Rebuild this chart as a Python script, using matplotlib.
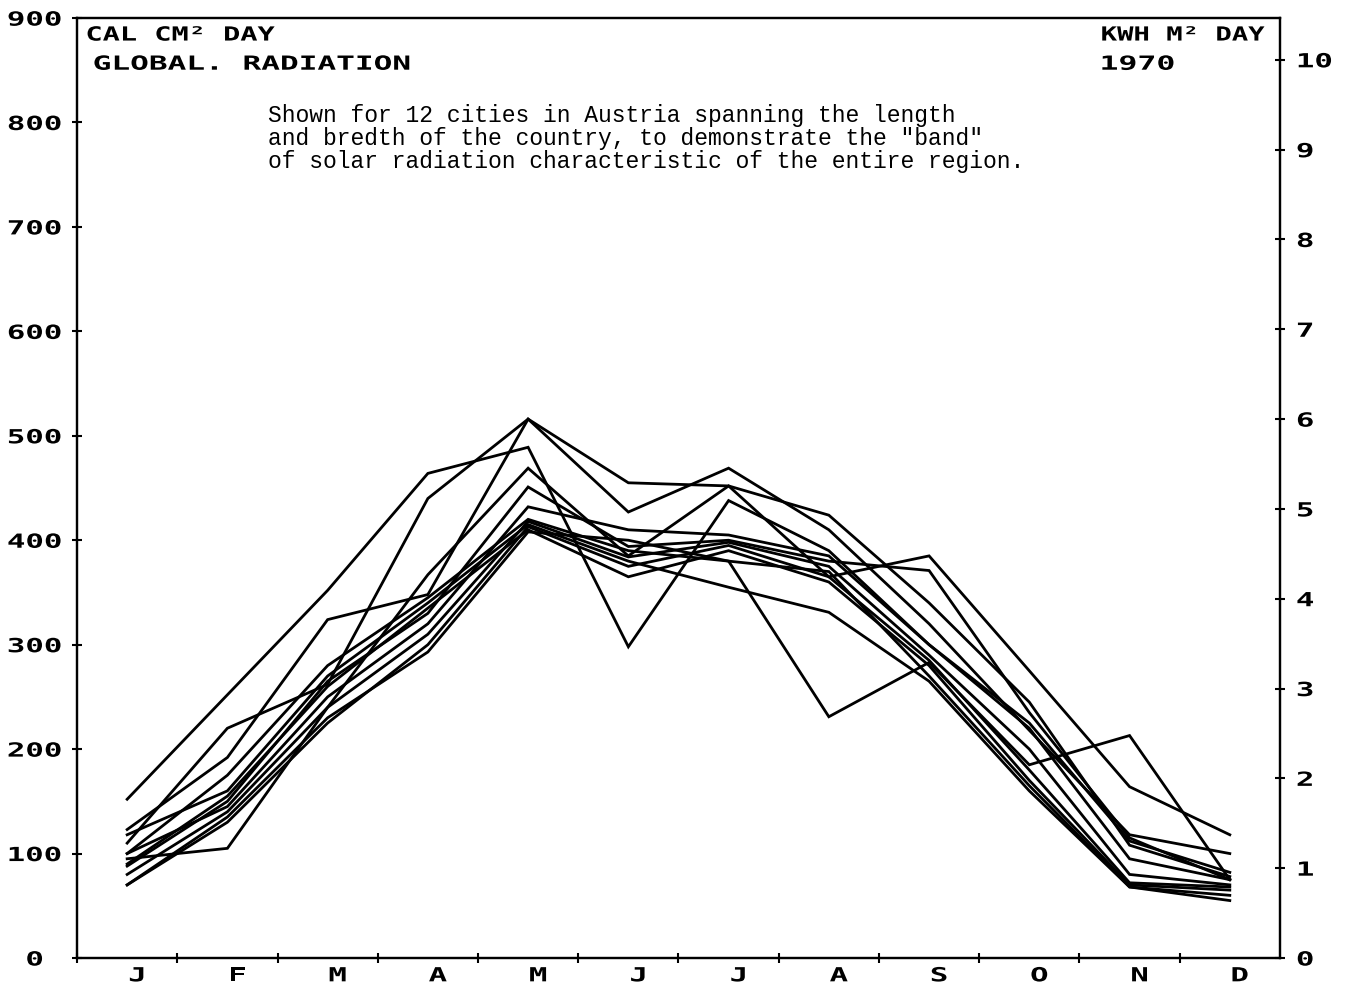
import numpy as np
import matplotlib.pyplot as plt
from matplotlib.patheffects import AbstractPathEffect
from matplotlib.transforms import Affine2D

# monthly global radiation, cal/cm2/day, 12 Austrian stations, 1970
months = ['J', 'F', 'M', 'A', 'M', 'J', 'J', 'A', 'S', 'O', 'N', 'D']
s1 = [152, 252, 352, 464, 489, 298, 438, 390, 300, 225, 112, 82]
s2 = [123, 192, 324, 348, 516, 455, 452, 424, 340, 245, 108, 78]
s3 = [110, 220, 262, 440, 516, 427, 469, 410, 320, 218, 118, 100]
s4 = [95, 105, 240, 367, 469, 385, 452, 365, 385, 275, 164, 118]
s5 = [88, 150, 265, 330, 451, 394, 400, 380, 371, 235, 115, 75]
s6 = [100, 145, 250, 320, 432, 410, 405, 385, 300, 220, 95, 75]
s7 = [80, 140, 240, 310, 418, 384, 398, 375, 290, 200, 80, 70]
s8 = [70, 130, 225, 300, 413, 375, 395, 365, 285, 180, 72, 68]
s9 = [90, 155, 260, 335, 410, 365, 390, 360, 280, 170, 70, 65]
s10 = [70, 135, 230, 293, 408, 400, 380, 370, 270, 165, 68, 60]
s11 = [118, 160, 270, 340, 415, 380, 355, 331, 265, 160, 68, 55]
s12 = [100, 175, 280, 345, 420, 390, 380, 231, 283, 185, 213, 75]
stations = [s1, s2, s3, s4, s5, s6, s7, s8, s9, s10, s11, s12]

CAL_PER_KWH = 86.0  # 1 kWh/m2 = 86 cal/cm2


class StretchX(AbstractPathEffect):
    # widen glyphs horizontally, like the old pen-plotter lettering
    def __init__(self, sx, anchor='left'):
        super().__init__()
        self.sx = sx
        self.anchor = anchor

    def draw_path(self, renderer, gc, tpath, affine, rgbFace=None):
        ext = tpath.get_extents()
        cx = {'left': 0.0, 'center': (ext.x0 + ext.x1) / 2, 'right': ext.x1}[self.anchor]
        t = Affine2D().translate(-cx, 0).scale(self.sx, 1).translate(cx, 0) + affine
        renderer.draw_path(gc, tpath, t, rgbFace)


plotter = dict(family='DejaVu Sans Mono', fontsize=14, fontweight='bold')
SX = 1.58

fig = plt.figure(figsize=(13.49, 9.91), dpi=100)
ax = fig.add_axes([0.0571, 0.0333, 0.8917, 0.9485])

x = np.arange(12) + 0.5
for s in stations:
    ax.plot(x, s, color='black', lw=2.0, solid_joinstyle='miter')

ax.set_xlim(0, 12)
ax.set_ylim(0, 900)
ax.set_yticks(np.arange(0, 901, 100))
ax.set_yticklabels([str(v) for v in range(0, 901, 100)], ha='center', **plotter)
ax.set_xticks(np.arange(0, 12))
ax.set_xticklabels([])
ax.set_xticks(x + 0.1, minor=True)
ax.set_xticklabels(months, minor=True, **plotter)
ax.tick_params(axis='x', which='minor', length=0, pad=6)
ax.tick_params(axis='both', which='major', direction='inout', length=7, width=1.5)
ax.tick_params(axis='y', pad=27)
for sp in ax.spines.values():
    sp.set_linewidth(1.6)
for lbl in ax.get_yticklabels() + ax.get_xticklabels(minor=True):
    lbl.set_path_effects([StretchX(SX, 'center')])

ax2 = ax.twinx()
ax2.set_ylim(0, 900 / CAL_PER_KWH)
ax2.set_yticks(np.arange(0, 11))
ax2.set_yticklabels([str(v) for v in range(0, 11)], **plotter)
ax2.tick_params(axis='y', direction='inout', length=7, width=1.5, pad=8)
for sp in ax2.spines.values():
    sp.set_linewidth(1.6)
for lbl in ax2.get_yticklabels():
    lbl.set_path_effects([StretchX(SX, 'left')])

heads = [
    (0.007, 0.992, 'CAL CM\u00b2 DAY', 1.47),
    (0.013, 0.961, 'GLOBAL. RADIATION', 1.6),
    (0.851, 0.992, 'KWH M\u00b2 DAY', 1.4),
    (0.850, 0.961, '1970', 1.62),
]
for hx, hy, txt, sx in heads:
    t = ax.text(hx, hy, txt, transform=ax.transAxes, va='top', ha='left', **plotter)
    t.set_path_effects([StretchX(sx, 'left')])

note = ('Shown for 12 cities in Austria spanning the length\n'
        'and bredth of the country, to demonstrate the "band"\n'
        'of solar radiation characteristic of the entire region.')
ax.text(0.159, 0.909, note, transform=ax.transAxes, va='top', ha='left',
        family='Liberation Mono', fontsize=16.6, linespacing=1.0)

fig.savefig('out.png', dpi=100)
